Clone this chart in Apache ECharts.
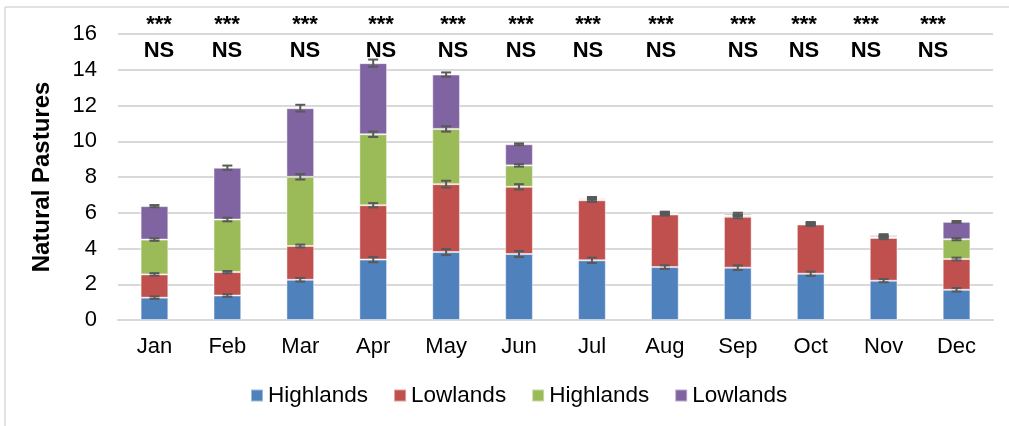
<!DOCTYPE html>
<html>
<head>
<meta charset="utf-8">
<script src="https://cdn.jsdelivr.net/npm/echarts@6/dist/echarts.min.js"></script>
<style>
  html, body { margin: 0; padding: 0; background: #fff; }
  #chart { width: 1009px; height: 426px; }
</style>
</head>
<body>
<div id="chart"></div>
<script>
const months = ['Jan', 'Feb', 'Mar', 'Apr', 'May', 'Jun', 'Jul', 'Aug', 'Sep', 'Oct', 'Nov', 'Dec']

// stacked segments, bottom to top
const highlandsA = [1.25, 1.37, 2.25, 3.38, 3.80, 3.69, 3.34, 2.96, 2.93, 2.59, 2.20, 1.69]
const lowlandsA = [1.30, 1.31, 1.89, 3.04, 3.80, 3.76, 3.36, 2.94, 2.84, 2.75, 2.39, 1.72]
const highlandsB = [1.95, 2.94, 3.87, 3.97, 3.09, 1.20, 0.07, 0.06, 0.08, 0.03, 0.06, 1.11]
const lowlandsB = [1.87, 2.90, 3.84, 3.98, 3.04, 1.18, 0.07, 0.05, 0.09, 0.04, 0.09, 0.97]

// error half-widths at the top of each segment
const errHighlandsA = [0.07, 0.07, 0.10, 0.15, 0.17, 0.17, 0.15, 0.10, 0.13, 0.12, 0.09, 0.10]
const errLowlandsA = [0.07, 0.06, 0.08, 0.12, 0.19, 0.15, 0.10, 0.06, 0.08, 0.08, 0.07, 0.08]
const errHighlandsB = [0.07, 0.10, 0.15, 0.15, 0.15, 0.07, 0.05, 0.05, 0.05, 0.05, 0.05, 0.06]
const errLowlandsB = [0.06, 0.12, 0.19, 0.20, 0.12, 0.05, 0.04, 0.05, 0.06, 0.07, 0.06, 0.05]

const legendLabels = ['Highlands', 'Lowlands', 'Highlands', 'Lowlands']
const sigTop = ['***', '***', '***', '***', '***', '***', '***', '***', '***', '***', '***', '***']
const sigBottom = ['NS', 'NS', 'NS', 'NS', 'NS', 'NS', 'NS', 'NS', 'NS', 'NS', 'NS', 'NS']
const yTicks = [0, 2, 4, 6, 8, 10, 12, 14, 16]

// layout of the hand-placed significance labels (pixel centres)
const sigX = [159, 227, 305, 381, 453, 521, 588, 661, 743, 804, 866, 933]

const font = '"Liberation Sans", Arial, sans-serif'
const colors = ['#4F81BD', '#C0504D', '#9BBB59', '#8064A2']
const segments = [highlandsA, lowlandsA, highlandsB, lowlandsB]
const errors = [errHighlandsA, errLowlandsA, errHighlandsB, errLowlandsB]
const seriesIds = legendLabels.map((l, i) => l + '#' + i)

const chart = echarts.init(document.getElementById('chart'))

const barSeries = segments.map((data, i) => ({
  name: seriesIds[i],
  type: 'bar',
  stack: 'total',
  barWidth: '38%',
  data: data,
  itemStyle: {
    color: colors[i],
    borderColor: 'rgba(255,255,255,0.45)',
    borderWidth: 1,
  },
}))

// error bars sit on the cumulative top of each segment
const errorSeries = segments.map((data, i) => {
  const points = months.map((m, j) => {
    let top = 0
    for (let k = 0; k <= i; k++) top += segments[k][j]
    return [j, top, errors[i][j]]
  })
  return {
    type: 'custom',
    name: 'err' + i,
    z: 10,
    silent: true,
    data: points,
    encode: { x: 0, y: 1 },
    renderItem: (params, api) => {
      const x = api.value(0)
      const y = api.value(1)
      const e = api.value(2)
      const hi = api.coord([x, y + e])
      const lo = api.coord([x, y - e])
      const cap = 5
      const style = { stroke: '#595959', lineWidth: 2 }
      return {
        type: 'group',
        children: [
          { type: 'line', shape: { x1: hi[0], y1: hi[1], x2: lo[0], y2: lo[1] }, style },
          { type: 'line', shape: { x1: hi[0] - cap, y1: hi[1], x2: hi[0] + cap, y2: hi[1] }, style },
          { type: 'line', shape: { x1: lo[0] - cap, y1: lo[1], x2: lo[0] + cap, y2: lo[1] }, style },
        ],
      }
    },
  }
})

const sigGraphics = []
sigX.forEach((x, i) => {
  sigGraphics.push({
    type: 'text', x: x, y: 25,
    style: { text: sigTop[i], font: 'bold 22px ' + font, fill: '#000', align: 'center', verticalAlign: 'middle' },
  })
  sigGraphics.push({
    type: 'text', x: x, y: 51,
    style: { text: sigBottom[i], font: 'bold 22px ' + font, fill: '#000', align: 'center', verticalAlign: 'middle' },
  })
})

const option = {
  animation: false,
  textStyle: { fontFamily: font },
  grid: { left: 118, right: 16, top: 34, bottom: 106, containLabel: false },
  legend: {
    data: seriesIds,
    formatter: (name) => name.split('#')[0],
    left: 245,
    top: 379,
    icon: 'rect',
    itemWidth: 12,
    itemHeight: 12,
    itemGap: 25,
    textStyle: { fontSize: 22.5, color: '#000', fontFamily: font },
  },
  xAxis: {
    type: 'category',
    data: months,
    axisTick: { show: false },
    axisLine: { lineStyle: { color: '#D9D9D9', width: 2 } },
    axisLabel: { fontSize: 22, color: '#000', margin: 16, fontFamily: font },
  },
  yAxis: {
    type: 'value',
    min: yTicks[0],
    max: yTicks[yTicks.length - 1],
    interval: 2,
    name: 'Natural Pastures',
    nameLocation: 'middle',
    nameGap: 64,
    nameTextStyle: { fontSize: 24, fontWeight: 'bold', color: '#000', fontFamily: font },
    axisLine: { show: false },
    axisTick: { show: false },
    axisLabel: { fontSize: 22, color: '#000', margin: 21, fontFamily: font },
    splitLine: { lineStyle: { color: '#D9D9D9', width: 2 } },
  },
  graphic: [
    { type: 'line', shape: { x1: 5, y1: 7, x2: 1009, y2: 7 }, style: { stroke: '#D9D9D9', lineWidth: 1.5 } },
    { type: 'line', shape: { x1: 5, y1: 7, x2: 5, y2: 426 }, style: { stroke: '#D9D9D9', lineWidth: 1.5 } },
    ...sigGraphics,
  ],
  series: [...barSeries, ...errorSeries],
}

chart.setOption(option)
</script>
</body>
</html>
